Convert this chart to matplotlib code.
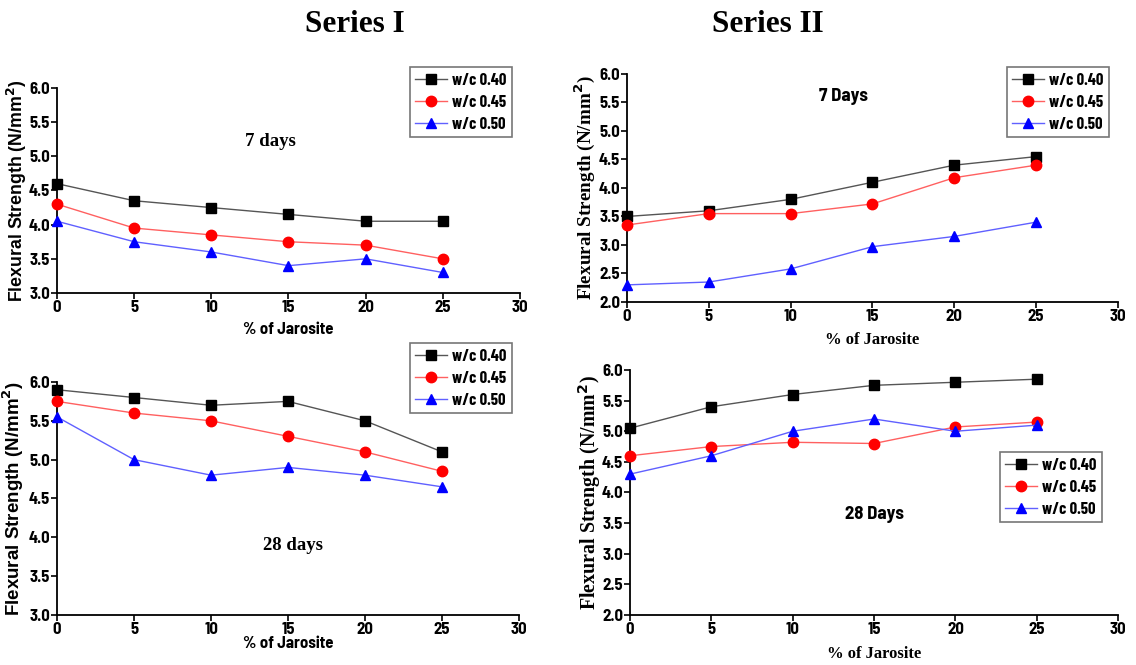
import matplotlib
matplotlib.use("Agg")
import matplotlib.pyplot as plt

jarosite = [0, 5, 10, 15, 20, 25]
series_labels = ["w/c 0.40", "w/c 0.45", "w/c 0.50"]

s1_7d_040 = [4.6, 4.35, 4.25, 4.15, 4.05, 4.05]
s1_7d_045 = [4.3, 3.95, 3.85, 3.75, 3.7, 3.5]
s1_7d_050 = [4.05, 3.75, 3.6, 3.4, 3.5, 3.3]

s2_7d_040 = [3.5, 3.6, 3.8, 4.1, 4.4, 4.55]
s2_7d_045 = [3.35, 3.55, 3.55, 3.72, 4.18, 4.4]
s2_7d_050 = [2.3, 2.35, 2.58, 2.97, 3.15, 3.4]

s1_28d_040 = [5.9, 5.8, 5.7, 5.75, 5.5, 5.1]
s1_28d_045 = [5.75, 5.6, 5.5, 5.3, 5.1, 4.85]
s1_28d_050 = [5.55, 5.0, 4.8, 4.9, 4.8, 4.65]

s2_28d_040 = [5.05, 5.4, 5.6, 5.75, 5.8, 5.85]
s2_28d_045 = [4.6, 4.75, 4.82, 4.8, 5.07, 5.15]
s2_28d_050 = [4.3, 4.6, 5.0, 5.2, 5.0, 5.1]

NARROW = ["Barlow Semi Condensed", "Liberation Sans", "DejaVu Sans"]
COND = ["Barlow Condensed", "Barlow Semi Condensed", "Liberation Sans", "DejaVu Sans"]
SANS = ["Liberation Sans", "DejaVu Sans"]
SERIF = ["Liberation Serif", "DejaVu Serif"]

styles = [
    dict(color="#555555", marker="s", mfc="black", mec="black"),
    dict(color="#ff6060", marker="o", mfc="red", mec="red"),
    dict(color="#6060ff", marker="^", mfc="blue", mec="blue"),
]

fig = plt.figure(figsize=(11.36, 6.65), dpi=100)


def panel(rect, data, ylim, label_text, label_xy, label_family, ylab_family,
          ylab_size, ylabel_x, xlabel_y, leg_anchor):
    ax = fig.add_axes(rect)
    handles = []
    for vals, st, lab in zip(data, styles, series_labels):
        h, = ax.plot(jarosite, vals, color=st["color"], lw=1.0, marker=st["marker"],
                     ms=7.5, mfc=st["mfc"], mec=st["mec"], label=lab, clip_on=False, zorder=3)
        handles.append(h)
    ax.set_xlim(0, 30)
    ax.set_ylim(*ylim)
    ax.set_xticks([0, 5, 10, 15, 20, 25, 30])
    yt = []
    v = ylim[0]
    while v <= ylim[1] + 1e-9:
        yt.append(round(v, 1))
        v += 0.5
    ax.set_yticks(yt)
    ax.set_yticklabels([f"{t:.1f}" for t in yt])
    for s in ["top", "right"]:
        ax.spines[s].set_visible(False)
    for s in ["left", "bottom"]:
        ax.spines[s].set_linewidth(1.3)
    ax.tick_params(direction="out", length=4, width=1.2, pad=1)
    for t in ax.get_xticklabels() + ax.get_yticklabels():
        t.set_family(NARROW)
        t.set_fontweight("bold")
        t.set_fontsize(12)
    ax.set_ylabel("Flexural Strength (N/mm$^{\\mathbf{2}}$)", family=ylab_family,
                  fontweight="bold", fontsize=ylab_size)
    ax.yaxis.set_label_coords(ylabel_x, 0.5)
    xl_family = NARROW if ylab_family is SANS else ylab_family
    ax.set_xlabel("% of Jarosite", family=xl_family, fontweight="bold", fontsize=12)
    ax.xaxis.set_label_coords(0.5, xlabel_y)
    ax.text(label_xy[0], label_xy[1], label_text, transform=ax.transAxes,
            family=label_family, fontweight="bold", fontsize=13.5, ha="center", va="center")
    leg = ax.legend(handles=handles, loc="upper right", bbox_to_anchor=leg_anchor,
                    bbox_transform=fig.transFigure, frameon=True, fancybox=False,
                    prop=dict(family=COND, weight="bold", size=12),
                    handlelength=1.9, handletextpad=0.3, borderpad=0.33,
                    labelspacing=0.42, borderaxespad=0)
    leg.get_frame().set_edgecolor("#555555")
    leg.get_frame().set_linewidth(1.2)
    return ax


panel([0.0502, 0.5594, 0.4075, 0.3083],
      [s1_7d_040, s1_7d_045, s1_7d_050], (3.0, 6.0),
      "7 days", (0.46, 0.74), SERIF, SANS, 12.8, -0.06, -0.14, (0.4507, 0.8992))

panel([0.5519, 0.5459, 0.4322, 0.3429],
      [s2_7d_040, s2_7d_045, s2_7d_050], (2.0, 6.0),
      "7 Days", (0.44, 0.90), NARROW, SERIF, 13.8, -0.061, -0.13, (0.9762, 0.8992))

panel([0.0502, 0.0752, 0.4067, 0.3504],
      [s1_28d_040, s1_28d_045, s1_28d_050], (3.0, 6.0),
      "28 days", (0.51, 0.30), SERIF, SANS, 13.5, -0.068, -0.09, (0.4507, 0.4842))

panel([0.5546, 0.0752, 0.4296, 0.3684],
      [s2_28d_040, s2_28d_045, s2_28d_050], (2.0, 6.0),
      "28 Days", (0.50, 0.41), NARROW, SERIF, 14.4, -0.055, -0.125, (0.9701, 0.3203))

fig.text(355 / 1136, 1 - 24 / 665, "Series I", family=SERIF, fontweight="bold",
         fontsize=22.5, ha="center", va="center")
fig.text(768 / 1136, 1 - 24 / 665, "Series II", family=SERIF, fontweight="bold",
         fontsize=22.5, ha="center", va="center")

fig.savefig("out.png", dpi=100)
